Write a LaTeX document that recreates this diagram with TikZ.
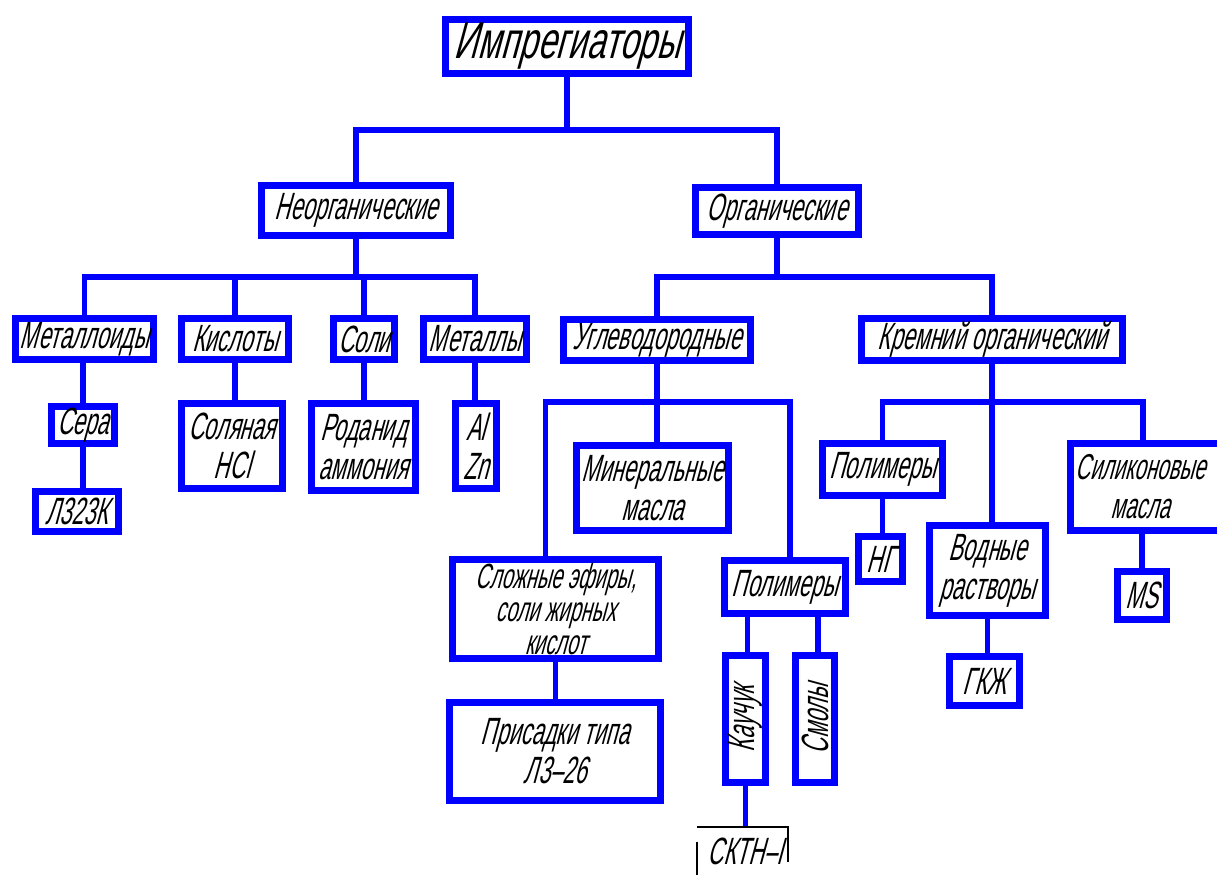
\documentclass[tikz,border=0pt]{standalone}
\usepackage{fontspec}
\setmainfont{Liberation Sans}[FakeSlant=0.27,FakeStretch=0.57]
\newfontfamily\impfont{Liberation Sans}[FakeSlant=0.27,FakeStretch=0.64]
\newcommand\bx[7][]{\node[box,minimum width={(#4-#2-7)*1pt},minimum height={(#5-#3-7)*1pt},#1] (#6) at ({(#2+#4)/2},{(#3+#5)/2}) {#7};}
\begin{document}
\begin{tikzpicture}[x=1pt,y=-1pt,
  box/.style={draw=blue,line width=7pt,fill=white,inner sep=0pt,align=center,
    font=\fontsize{38}{39}\selectfont},
  conn/.style={draw=blue,line width=5.5pt},
  thinl/.style={draw=black,line width=1.2pt}]
\useasboundingbox (0,0) rectangle (1217,875);
% boxes
\bx[font=\impfont\fontsize{52}{52}\selectfont]{442}{16}{692}{77}{imp}{Импрегиаторы}
\bx{258}{182}{454}{239}{neorg}{Неорганические}
\bx{692}{184}{862}{238}{org}{Органические}
\bx{12}{315}{157}{363}{metd}{Металлоиды}
\bx{178}{315}{292}{363}{kis}{Кислоты}
\bx{330}{315}{398}{363}{sol}{Соли}
\bx{420}{315}{530}{363}{metl}{Металлы}
\bx{560}{316}{754}{364}{ugl}{Углеводородные}
\bx{858}{315}{1126}{364}{krem}{Кремний органический}
\bx{48}{403}{118}{447}{sera}{Сера}
\bx{32}{488}{122}{535}{lz}{Л323К}
\bx{178}{400}{286}{492}{soln}{Соляная\\HCl}
\bx{308}{400}{419}{494}{rod}{Роданид\\аммония}
\bx{452}{400}{500}{492}{alzn}{Al\\Zn}
\bx{573}{442}{732}{534}{min}{Минеральные\\масла}
\bx[font=\fontsize{35}{33}\selectfont]{449}{556}{662}{662}{sl}{Сложные эфиры,\\соли жирных\\кислот}
\bx{721}{557}{849}{617}{pola}{Полимеры}
\bx{446}{699}{664}{804}{pris}{Присадки типа\\Л3–26}
\bx{722}{652}{769}{786}{kau}{}
\bx{792}{652}{838}{786}{smo}{}
\node[rotate=90,font=\fontsize{38}{38}\selectfont] (kaut) at (kau) {Каучук};
\node[rotate=90,font=\fontsize{38}{38}\selectfont] (smot) at (smo) {Смолы};
\bx{819}{440}{946}{499}{polb}{Полимеры}
\bx{926}{522}{1049}{619}{vod}{Водные\\растворы}
\bx{1067}{440}{1225}{534}{sil}{}
\node[align=center,inner sep=0pt,font=\fontsize{36}{39}\selectfont] (silt) at (1140,487) {Силиконовые\\масла};
\bx{855}{533}{906}{585}{ng}{НГ}
\bx{946}{653}{1023}{709}{gkzh}{ГКЖ}
\bx{1114}{568}{1170}{623}{ms}{MS}
\node[font=\fontsize{38}{38}\selectfont,inner sep=0pt] (sktn) at (745,851) {СКТН–I};
\coordinate (sktntop) at (743,827);
% bar levels
\coordinate (ya) at (0,130);
\coordinate (yb) at (0,277);
\coordinate (yc) at (0,402);
% connectors
\draw[conn] (imp.south) -- (imp.south |- ya);
\draw[conn] (neorg.north) |- (org.north |- ya) -- (org.north);
\draw[conn] (neorg.south) -- (neorg.south |- yb);
\draw[conn] (metd.north) |- (metl.north |- yb) -- (metl.north);
\draw[conn] (kis.north) -- (kis.north |- yb);
\draw[conn] (sol.north) -- (sol.north |- yb);
\draw[conn] (org.south) -- (org.south |- yb);
\draw[conn] (ugl.north) |- (krem.north |- yb) -- (krem.north);
\draw[conn] (sera.north |- metd.south) -- (sera.north);
\draw[conn] (sera.south) -- (sera.south |- lz.north);
\draw[conn] (kis.south) -- (kis.south |- soln.north);
\draw[conn] (sol.south) -- (sol.south |- rod.north);
\draw[conn] (metl.south) -- (metl.south |- alzn.north);
\draw[conn] (ugl.south) -- (ugl.south |- min.north);
\draw[conn] ([xshift=-10pt]sl.north) |- ([xshift=5pt]pola.north |- yc) -- ([xshift=5pt]pola.north);
\draw[conn] (sl.south) -- (sl.south |- pris.north);
\draw[conn] ([xshift=2pt]kau.north) -- ([xshift=2pt]kau.north |- pola.south);
\draw[conn] ([xshift=3pt]smo.north) -- ([xshift=3pt]smo.north |- pola.south);
\draw[conn] (kau.south) -- (kau.south |- sktntop);
\draw[conn] (krem.south) -- (krem.south |- vod.north);
\draw[conn] (polb.north) |- ([xshift=-3pt]sil.north |- yc) -- ([xshift=-3pt]sil.north);
\draw[conn] (polb.south) -- (polb.south |- ng.north);
\draw[conn] (vod.south) -- (vod.south |- gkzh.north);
\draw[conn] (ms.north |- sil.south) -- (ms.north);
% partial thin frame around СКТН-I
\draw[thinl] (697,827) -- (788,827) -- (788,862);
\draw[thinl] (697,842) -- (697,875);
\end{tikzpicture}
\end{document}
